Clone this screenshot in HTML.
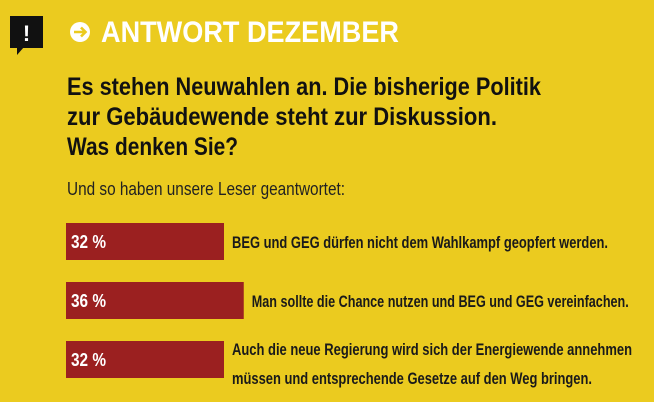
<!DOCTYPE html>
<html><head><meta charset="utf-8"><style>
body{margin:0;background:#EBCB1F;}
svg{display:block;font-family:"Liberation Sans Narrow","Liberation Sans",sans-serif;}
</style></head><body>
<svg width="654" height="402" viewBox="0 0 654 402">
<rect width="654" height="402" fill="#EBCB1F"/>
<g>
<rect x="10" y="16" width="33" height="32" fill="#111"/>
<polygon points="17,47 24,47 17,55" fill="#111"/>
<text x="26.5" y="41" fill="#fff" font-size="22" font-weight="bold" text-anchor="middle" font-family="Liberation Sans,sans-serif">!</text>
</g>
<g>
<circle cx="80" cy="32" r="10" fill="#fff"/>
<path d="M74 32 H85 M81 27.5 L85.5 32 L81 36.5" stroke="#EBCB1F" stroke-width="2.6" fill="none"/>
</g>
<text x="101" y="42" fill="#fff" font-size="30" font-weight="bold" textLength="298" lengthAdjust="spacingAndGlyphs">ANTWORT DEZEMBER</text>
<g fill="#111" font-weight="bold" font-size="25">
<text x="67" y="95" textLength="474" lengthAdjust="spacingAndGlyphs">Es stehen Neuwahlen an. Die bisherige Politik</text>
<text x="67" y="125" textLength="430" lengthAdjust="spacingAndGlyphs">zur Gebäudewende steht zur Diskussion.</text>
<text x="67" y="155" textLength="171" lengthAdjust="spacingAndGlyphs">Was denken Sie?</text>
</g>
<text x="67" y="195" fill="#222" font-size="18" textLength="278" lengthAdjust="spacingAndGlyphs">Und so haben unsere Leser geantwortet:</text>
<g id="bars"></g>
</svg>
<script>
const values=[32,36,32];
const labels=["32 %","36 %","32 %"];
const answers=[["BEG und GEG dürfen nicht dem Wahlkampf geopfert werden."],["Man sollte die Chance nutzen und BEG und GEG vereinfachen."],["Auch die neue Regierung wird sich der Energiewende annehmen","müssen und entsprechende Gesetze auf den Weg bringen."]];
const answerWidths=[[376],[377],[400,360]];
const NS="http://www.w3.org/2000/svg";
const g=document.getElementById('bars');
const x0=66,scale=158/32;
const xs=v=>v*scale;
const rowY=[223,282,341];
values.forEach((v,i)=>{
  const y=rowY[i];
  const r=document.createElementNS(NS,'rect');
  
  
  r.setAttribute('x',x0);r.setAttribute('y',y);r.setAttribute('width',xs(v));r.setAttribute('height',37);
  r.setAttribute('fill','#9B2020');g.appendChild(r);
  const t=document.createElementNS(NS,'text');
  
  
  t.setAttribute('x',71);t.setAttribute('y',y+25);t.setAttribute('fill','#fff');
  t.setAttribute('font-size','18');t.setAttribute('font-weight','bold');
  t.setAttribute('textLength','35');t.setAttribute('lengthAdjust','spacingAndGlyphs');
  t.textContent=labels[i];g.appendChild(t);
  const lines=answers[i];
  lines.forEach((ln,j)=>{
    const a=document.createElementNS(NS,'text');
    
    
    a.setAttribute('x',x0+xs(v)+8);
    const yy=lines.length===1?y+25:y+14+j*29;
    a.setAttribute('y',yy);a.setAttribute('fill','#1a1a1a');a.setAttribute('font-size','17');a.setAttribute('font-weight','bold');
    a.setAttribute('textLength',answerWidths[i][j]);a.setAttribute('lengthAdjust','spacingAndGlyphs');
    a.textContent=ln;g.appendChild(a);
  });
});
</script>
</body></html>
